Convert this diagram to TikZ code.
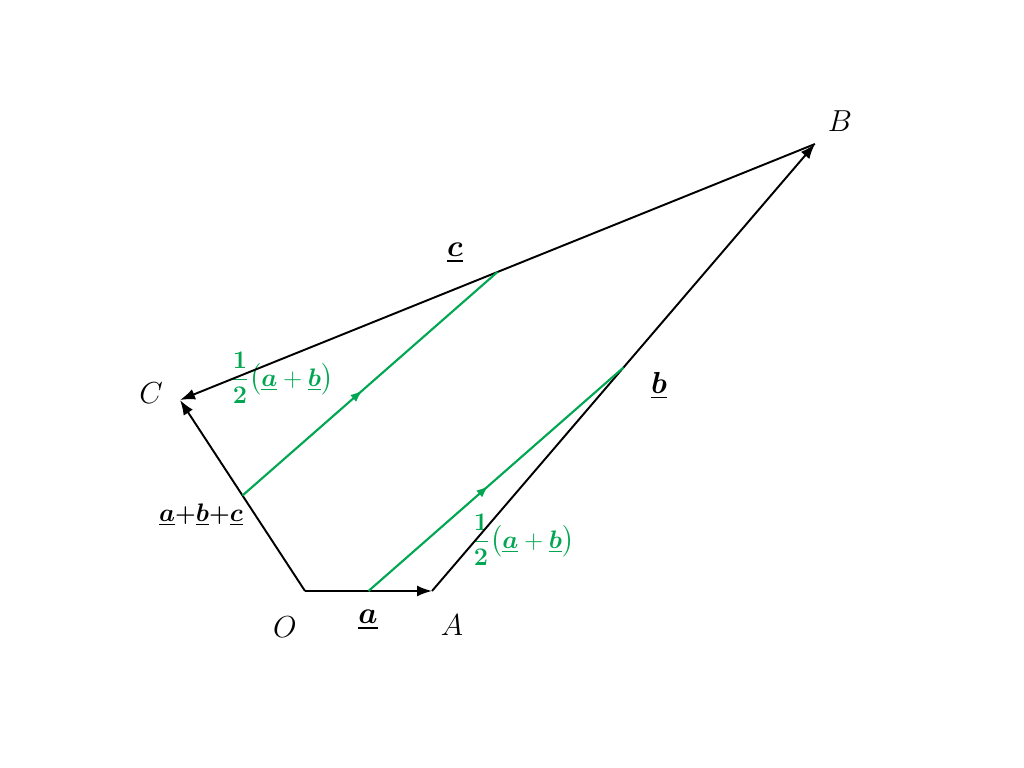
\documentclass[tikz,border=0pt]{standalone}
\usepackage{amsmath, amssymb, bm}
\usepackage{xcolor}
\usetikzlibrary{arrows.meta, calc, decorations.markings}
\definecolor{vgreen}{RGB}{0,166,81}
\newcommand{\uv}[1]{\underline{\bm{#1}}}
\tikzstyle{vec} = [line width=1.1pt, -{Latex[length=3mm, width=2.2mm]}]
\tikzstyle{half} = [line width=1.2pt, vgreen, postaction={decorate}, decoration={markings, mark=at position 0.47 with {\arrow{Latex[length=2.4mm, width=1.8mm]}}}]
\tikzstyle{pt} = [font=\fontsize{19}{22}\selectfont, inner sep=0pt]
\tikzstyle{lbl} = [font=\fontsize{17}{20}\selectfont, inner sep=0pt]
\tikzstyle{sumlbl} = [font=\fontsize{13.5}{16}\selectfont, inner sep=0pt]
\tikzstyle{glbl} = [font=\fontsize{15}{18}\selectfont, inner sep=0pt, text=vgreen]

\begin{document}
\begin{tikzpicture}[x=0.2mm, y=-0.2mm]

		\useasboundingbox (0,0) rectangle (1024,768);

		\coordinate (O) at (305,591);
		\coordinate (A) at (432,591);
		\coordinate (B) at (815,144);
		\coordinate (C) at (180,400);

		\coordinate (mOA) at ($(O)!0.5!(A)$);
		\coordinate (mAB) at ($(A)!0.5!(B)$);
		\coordinate (mOC) at ($(O)!0.5!(C)$);
		\coordinate (mCB) at ($(C)!0.5!(B)$);

		\node (lO) [pt] at (285,627) {$O$};
		\node (lA) [pt] at (452,625) {$A$};
		\node (lB) [pt] at (840,121) {$B$};
		\node (lC) [pt] at (151,393) {$C$};

		\node (va) [lbl] at (368,620) {$\uv{a}$};
		\node (vb) [lbl] at (659,386) {$\uv{b}$};
		\node (vc) [lbl] at (455,253) {$\uv{c}$};
		\node (vabc) [sumlbl] at (201,515) {$\uv{a}\textbf{+}\uv{b}\textbf{+}\uv{c}$};

		\node (half1) [glbl] at (282,378) {$\dfrac{\mathbf{1}}{\mathbf{2}}\big(\uv{a}+\uv{b}\big)$};
		\node (half2) [glbl] at (523,540) {$\dfrac{\mathbf{1}}{\mathbf{2}}\big(\uv{a}+\uv{b}\big)$};

		\draw [vec] (O) -- (A);
		\draw [vec] (A) -- (B);
		\draw [vec] (B) -- (C);
		\draw [vec] (O) -- (C);

		\draw [half] (mOA) -- (mAB);
		\draw [half] (mOC) -- (mCB);

\end{tikzpicture}
\end{document}
